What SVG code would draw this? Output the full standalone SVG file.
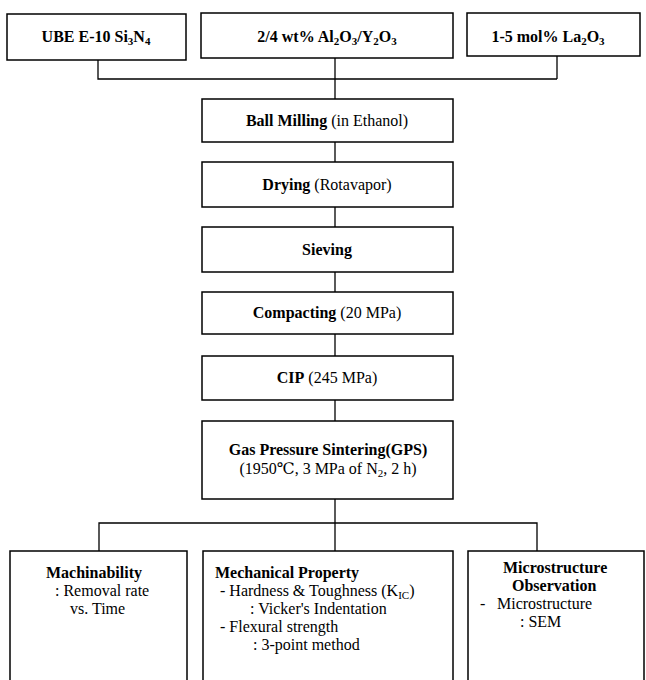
<svg xmlns="http://www.w3.org/2000/svg" width="646" height="680" viewBox="0 0 646 680">
<style>
  .box { fill: #fff; stroke: #000; stroke-width: 1.5; }
  .conn { fill: none; stroke: #000; stroke-width: 1.3; }
  .t text { font-size: 16px; fill: #000; }
  .b { font-weight: bold; }
  .c { text-anchor: middle; }
  .s { font-size: 11px; }
</style>
<rect width="646" height="680" fill="#fff"/>
<g id="connectors">
  <polyline class="conn" points="98,60 98,79 557,79"/>
  <line class="conn" x1="557" y1="56" x2="557" y2="79"/>
  <line class="conn" x1="335" y1="58" x2="335" y2="99"/>
  <line class="conn" x1="335" y1="142" x2="335" y2="162"/>
  <line class="conn" x1="335" y1="207" x2="335" y2="227"/>
  <line class="conn" x1="335" y1="272" x2="335" y2="292"/>
  <line class="conn" x1="335" y1="334" x2="335" y2="356"/>
  <line class="conn" x1="335" y1="400" x2="335" y2="421"/>
  <line class="conn" x1="335" y1="499" x2="335" y2="551"/>
  <polyline class="conn" points="99,551 99,523 537,523 537,551"/>
</g>
<g class="t" font-family="Liberation Serif, DejaVu Serif, serif">
<g id="n-ube">
  <rect class="box" x="7" y="14" width="179" height="46"/>
  <text class="b c" x="96" y="42">UBE E-10 Si<tspan class="s" dy="3">3</tspan><tspan dy="-3">N</tspan><tspan class="s" dy="3">4</tspan></text>
</g>
<g id="n-additive">
  <rect class="box" x="201" y="13" width="252" height="45"/>
  <text class="b c" x="327" y="42">2/4 wt% Al<tspan class="s" dy="3">2</tspan><tspan dy="-3">O</tspan><tspan class="s" dy="3">3</tspan><tspan dy="-3">/Y</tspan><tspan class="s" dy="3">2</tspan><tspan dy="-3">O</tspan><tspan class="s" dy="3">3</tspan></text>
</g>
<g id="n-la">
  <rect class="box" x="467" y="13" width="173" height="43"/>
  <text class="b c" x="548" y="42">1-5 mol% La<tspan class="s" dy="3">2</tspan><tspan dy="-3">O</tspan><tspan class="s" dy="3">3</tspan></text>
</g>
<g id="n-ball">
  <rect class="box" x="202" y="99" width="251" height="43"/>
  <text class="c" x="327" y="126"><tspan class="b">Ball Milling</tspan> (in Ethanol)</text>
</g>
<g id="n-drying">
  <rect class="box" x="202" y="162" width="251" height="45"/>
  <text class="c" x="327" y="190"><tspan class="b">Drying</tspan> (Rotavapor)</text>
</g>
<g id="n-sieving">
  <rect class="box" x="202" y="227" width="251" height="45"/>
  <text class="b c" x="327" y="255">Sieving</text>
</g>
<g id="n-compacting">
  <rect class="box" x="202" y="292" width="251" height="42"/>
  <text class="c" x="327" y="318"><tspan class="b">Compacting</tspan> (20 MPa)</text>
</g>
<g id="n-cip">
  <rect class="box" x="202" y="356" width="251" height="44"/>
  <text class="c" x="327" y="383"><tspan class="b">CIP</tspan> (245 MPa)</text>
</g>
<g id="n-gps">
  <rect class="box" x="202" y="421" width="251" height="78"/>
  <text class="b c" x="328" y="455">Gas Pressure Sintering(GPS)</text>
  <text class="c" x="328" y="474">(1950℃, 3 MPa of N<tspan class="s" dy="3">2</tspan><tspan dy="-3">, 2 h)</tspan></text>
</g>
<g id="n-machinability">
  <rect class="box" x="10" y="551" width="177" height="140"/>
  <text class="b" x="46" y="578">Machinability</text>
  <text x="55" y="596">: Removal rate</text>
  <text x="70" y="614">vs. Time</text>
</g>
<g id="n-mechanical">
  <rect class="box" x="203" y="551" width="250" height="140"/>
  <text class="b" x="215" y="578">Mechanical Property</text>
  <text x="220" y="596">- Hardness &amp; Toughness (K<tspan class="s" dy="3">IC</tspan><tspan dy="-3">)</tspan></text>
  <text x="250" y="614">: Vicker's Indentation</text>
  <text x="220" y="632">- Flexural strength</text>
  <text x="253" y="650">: 3-point method</text>
</g>
<g id="n-microstructure">
  <rect class="box" x="468" y="551" width="176" height="140"/>
  <text class="b" x="503" y="573">Microstructure</text>
  <text class="b" x="512" y="591">Observation</text>
  <text x="480" y="609">-</text>
  <text x="497" y="609">Microstructure</text>
  <text x="520" y="627">: SEM</text>
</g>
</g>
</svg>
